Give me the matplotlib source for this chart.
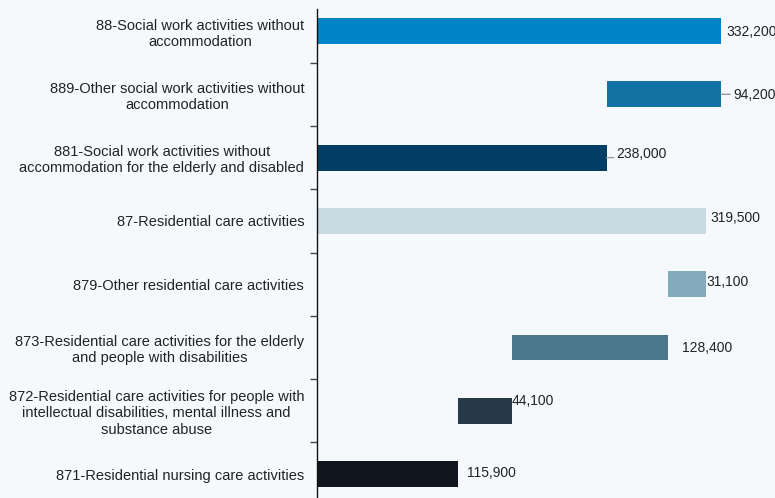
import matplotlib
matplotlib.use("Agg")
import matplotlib.pyplot as plt

plt.rcParams['font.family'] = ['Liberation Sans', 'DejaVu Sans']

# Categories listed from bottom to top
categories = [
    "871-Residential nursing care activities",
    "872-Residential care activities for people with\nintellectual disabilities, mental illness and\nsubstance abuse",
    "873-Residential care activities for the elderly\nand people with disabilities",
    "879-Other residential care activities",
    "87-Residential care activities",
    "881-Social work activities without\naccommodation for the elderly and disabled",
    "889-Other social work activities without\naccommodation",
    "88-Social work activities without\naccommodation",
]
values = [115900, 44100, 128400, 31100, 319500, 238000, 94200, 332200]
is_total = [False, False, False, False, True, False, False, True]

colors = ["#0f161d", "#263b47", "#4a778b", "#84aabd",
          "#c8dbe2", "#003f63", "#1471a4", "#0085c8"]

# label offsets in pixels (dx from bar end, dy from bar centre), leader flag
label_dx = [9, 0, 14, 1, 5, 10, 12, 5]
label_dy = [1, 10, -1, 2, 3, 4, -1, -1]
leader = [False, False, False, False, False, True, True, False]

# waterfall bases: steps stack, a total starts at zero and resets the running sum
lefts = []
running = 0
for v, tot in zip(values, is_total):
    if tot:
        lefts.append(0)
        running = 0
    else:
        lefts.append(running)
        running += v

bg = "#f6f9fb"
fig = plt.figure(figsize=(7.75, 4.98), dpi=100, facecolor=bg)
ax = fig.add_axes([317.3 / 775, 0.0, 1 - 317.3 / 775, 1 - 9 / 498])
ax.set_facecolor(bg)

ypos = list(range(len(categories)))
ax.barh(ypos, values, left=lefts, height=0.41, color=colors, zorder=2)

ax.set_xlim(0, 376600)
ax.set_ylim(-0.378, 7.348)

for sp in ["top", "right", "bottom"]:
    ax.spines[sp].set_visible(False)
ax.spines["left"].set_color("#111111")
ax.spines["left"].set_linewidth(1.0)
ax.set_xticks([])

ax.set_yticks(ypos)
ax.set_yticklabels(categories, fontsize=10.5, color="#222222", ha="right",
                   multialignment="center")
ax.tick_params(axis="y", which="major", length=0, pad=9.4)
ax.set_yticks([y + 0.5 for y in ypos[:-1]], minor=True)
ax.tick_params(axis="y", which="minor", length=5, width=1, color="#444444")

for y, v, l, dx, dy, ld in zip(ypos, values, lefts, label_dx, label_dy, leader):
    end = l + v
    ax.annotate(f"{v:,}", xy=(end, y), xytext=(dx * 0.72, dy * 0.72),
                textcoords="offset points", ha="left", va="center",
                fontsize=10, color="#222222", annotation_clip=False)
    if ld:
        ax.annotate("", xy=(end, y), xytext=((dx - 3) * 0.72, 0),
                    textcoords="offset points",
                    arrowprops=dict(arrowstyle="-", color="#999999", lw=1,
                                    shrinkA=0, shrinkB=0))

fig.savefig("out.png", dpi=100, facecolor=bg)
